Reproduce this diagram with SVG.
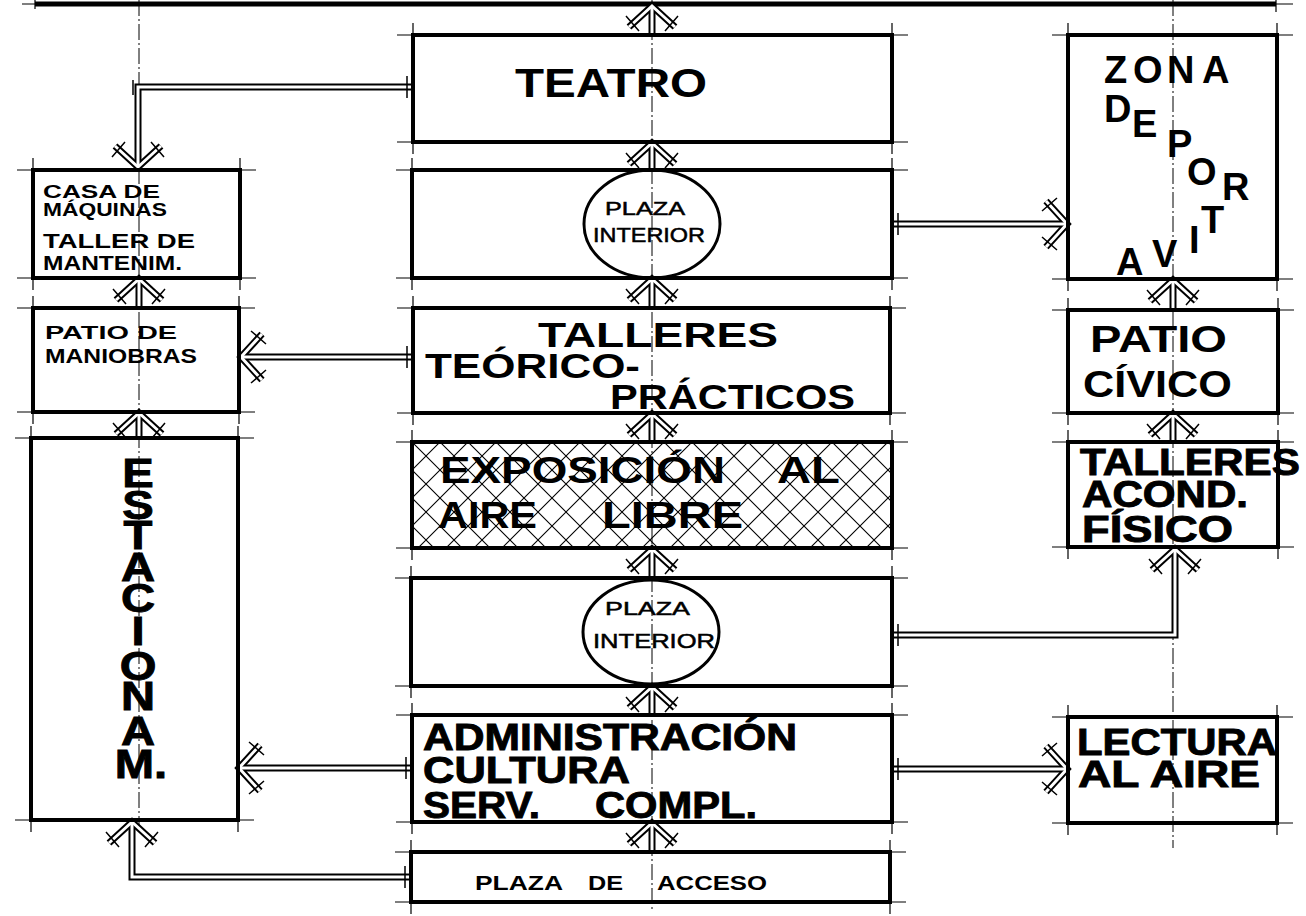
<svg xmlns="http://www.w3.org/2000/svg" xmlns:xlink="http://www.w3.org/1999/xlink" width="1306" height="916" viewBox="0 0 1306 916">
<style>
.bx{fill:none;stroke:#000;stroke-width:4}
.ext{fill:none;stroke:#000;stroke-width:1.2}
.ax{fill:none;stroke:#000;stroke-width:1;stroke-dasharray:16 3 2 3}
.el{fill:none;stroke:#000;stroke-width:3}
.t{font-family:"Liberation Sans",Arial,sans-serif;font-weight:bold;fill:#000}
.n{font-weight:normal;stroke:#000;stroke-width:0.5}
.hv{stroke:#000;stroke-width:0.9}
.tk{fill:none;stroke:#000;stroke-width:1.5}
</style>
<defs>
<pattern id="hatch" width="28" height="28" patternUnits="userSpaceOnUse" x="412" y="442">
<path d="M0 0L28 28M28 0L0 28" stroke="#000" stroke-width="1.1" fill="none"/>
</pattern>
<path id="arm" d="M-23 21L0 0L23 21"/>
<path id="tk" d="M-26 10L-13 25M13 25L26 10"/>
<g id="cp" fill="none" stroke-linejoin="miter">
<path d="M652 35V6"/><use xlink:href="#arm" href="#arm" transform="translate(652,6)"/>
<path d="M652 170V143"/><use xlink:href="#arm" href="#arm" transform="translate(652,143)"/>
<path d="M652 308V279"/><use xlink:href="#arm" href="#arm" transform="translate(652,279)"/>
<path d="M652 442V414"/><use xlink:href="#arm" href="#arm" transform="translate(652,414)"/>
<path d="M652 578V549"/><use xlink:href="#arm" href="#arm" transform="translate(652,549)"/>
<path d="M652 715V687"/><use xlink:href="#arm" href="#arm" transform="translate(652,687)"/>
<path d="M652 852V823"/><use xlink:href="#arm" href="#arm" transform="translate(652,823)"/>
<path d="M413 87H138V167"/><use xlink:href="#arm" href="#arm" transform="translate(138,167) rotate(180)"/>
<path d="M139 308V279"/><use xlink:href="#arm" href="#arm" transform="translate(139,279)"/>
<path d="M139 438V413"/><use xlink:href="#arm" href="#arm" transform="translate(139,413)"/>
<path d="M413 357H241"/><use xlink:href="#arm" href="#arm" transform="translate(241,357) rotate(-90)"/>
<path d="M412 768H239"/><use xlink:href="#arm" href="#arm" transform="translate(239,768) rotate(-90)"/>
<path d="M411 877H132V822"/><use xlink:href="#arm" href="#arm" transform="translate(132,822)"/>
<path d="M892 224H1067"/><use xlink:href="#arm" href="#arm" transform="translate(1067,224) rotate(90)"/>
<path d="M1173 310V280"/><use xlink:href="#arm" href="#arm" transform="translate(1173,280)"/>
<path d="M1173 442V414"/><use xlink:href="#arm" href="#arm" transform="translate(1173,414)"/>
<path d="M892 635H1175V549"/><use xlink:href="#arm" href="#arm" transform="translate(1175,549)"/>
<path d="M892 769H1067"/><use xlink:href="#arm" href="#arm" transform="translate(1067,769) rotate(90)"/>
</g>
</defs>
<rect width="1306" height="916" fill="#fff"/>
<g id="axes">
<path class="ax" d="M652 0V912"/>
<path class="ax" d="M139 0V832"/>
<path class="ax" d="M1173 0V848"/>
</g>
<g id="top-bar">
<path d="M35 4H1276" stroke="#000" stroke-width="5" fill="none"/>
<path class="ext" d="M22 4H35M1276 4H1293M35 0V9M1276 0V12"/>
</g>
<g id="connectors">
<use xlink:href="#cp" href="#cp" stroke="#000" stroke-width="7"/>
<use xlink:href="#cp" href="#cp" stroke="#fff" stroke-width="3"/>
<g class="tk">
<use xlink:href="#tk" href="#tk" transform="translate(652,6)"/>
<use xlink:href="#tk" href="#tk" transform="translate(652,143)"/>
<use xlink:href="#tk" href="#tk" transform="translate(652,279)"/>
<use xlink:href="#tk" href="#tk" transform="translate(652,414)"/>
<use xlink:href="#tk" href="#tk" transform="translate(652,549)"/>
<use xlink:href="#tk" href="#tk" transform="translate(652,687)"/>
<use xlink:href="#tk" href="#tk" transform="translate(652,823)"/>
<use xlink:href="#tk" href="#tk" transform="translate(138,167) rotate(180)"/>
<use xlink:href="#tk" href="#tk" transform="translate(139,279)"/>
<use xlink:href="#tk" href="#tk" transform="translate(139,413)"/>
<use xlink:href="#tk" href="#tk" transform="translate(241,357) rotate(-90)"/>
<use xlink:href="#tk" href="#tk" transform="translate(239,768) rotate(-90)"/>
<use xlink:href="#tk" href="#tk" transform="translate(132,822)"/>
<use xlink:href="#tk" href="#tk" transform="translate(1067,224) rotate(90)"/>
<use xlink:href="#tk" href="#tk" transform="translate(1173,280)"/>
<use xlink:href="#tk" href="#tk" transform="translate(1173,414)"/>
<use xlink:href="#tk" href="#tk" transform="translate(1175,549)"/>
<use xlink:href="#tk" href="#tk" transform="translate(1067,769) rotate(90)"/>
<path d="M407 76V98M407 346V368M406 757V779M405 866V888M898 213V235M898 624V646M898 758V780M133 80V95"/>
</g>
</g>
<g id="teatro">
<path class="ext" d="M397 35H908M397 142H908M413 23V154M892 23V154"/>
<rect class="bx" x="413" y="35" width="479" height="107"/>
<text class="t" x="515" y="97" font-size="40" textLength="192" lengthAdjust="spacingAndGlyphs">TEATRO</text>
</g>
<g id="plaza-interior-1">
<path class="ext" d="M396 170H908M396 278H908M412 158V290M892 158V290"/>
<rect class="bx" x="412" y="170" width="480" height="108"/>
<ellipse class="el" cx="652" cy="224" rx="68" ry="54"/>
<text class="t n" x="605" y="215" font-size="18" textLength="80" lengthAdjust="spacingAndGlyphs">PLAZA</text>
<text class="t n" x="593" y="242" font-size="20" textLength="112" lengthAdjust="spacingAndGlyphs">INTERIOR</text>
</g>
<g id="talleres-teorico">
<path class="ext" d="M397 308H906M397 413H906M413 296V425M890 296V425"/>
<rect class="bx" x="413" y="308" width="477" height="105"/>
<text class="t" x="538" y="347" font-size="35" textLength="240" lengthAdjust="spacingAndGlyphs">TALLERES</text>
<text class="t" x="425" y="378" font-size="35" textLength="215" lengthAdjust="spacingAndGlyphs">TEÓRICO-</text>
<text class="t" x="610" y="409" font-size="35" textLength="245" lengthAdjust="spacingAndGlyphs">PRÁCTICOS</text>
</g>
<g id="exposicion">
<path class="ext" d="M396 442H908M396 548H908M412 430V560M892 430V560"/>
<rect x="412" y="442" width="480" height="106" fill="url(#hatch)" stroke="#000" stroke-width="4"/>
<text class="t" x="440" y="483" font-size="36" textLength="285" lengthAdjust="spacingAndGlyphs">EXPOSICIÓN</text>
<text class="t" x="777" y="483" font-size="36" textLength="63" lengthAdjust="spacingAndGlyphs">AL</text>
<text class="t" x="438" y="528" font-size="36" textLength="99" lengthAdjust="spacingAndGlyphs">AIRE</text>
<text class="t" x="602" y="528" font-size="36" textLength="141" lengthAdjust="spacingAndGlyphs">LIBRE</text>
</g>
<g id="plaza-interior-2">
<path class="ext" d="M395 578H908M395 686H908M411 566V698M892 566V698"/>
<rect class="bx" x="411" y="578" width="481" height="108"/>
<ellipse class="el" cx="651" cy="632" rx="68" ry="52"/>
<text class="t n" x="605" y="615" font-size="18" textLength="85" lengthAdjust="spacingAndGlyphs">PLAZA</text>
<text class="t n" x="593" y="648" font-size="20" textLength="122" lengthAdjust="spacingAndGlyphs">INTERIOR</text>
</g>
<g id="administracion">
<path class="ext" d="M396 715H908M396 822H908M412 703V834M892 703V834"/>
<rect class="bx" x="412" y="715" width="480" height="107"/>
<text class="t hv" font-size="36"><tspan x="423" y="750" textLength="374" lengthAdjust="spacingAndGlyphs">ADMINISTRACIÓN</tspan><tspan x="423" y="783" textLength="207" lengthAdjust="spacingAndGlyphs">CULTURA</tspan><tspan x="423" y="818" textLength="117" lengthAdjust="spacingAndGlyphs">SERV.</tspan><tspan x="595" y="818" textLength="162" lengthAdjust="spacingAndGlyphs">COMPL.</tspan></text>
</g>
<g id="plaza-acceso">
<path class="ext" d="M395 852H906M395 902H906M411 840V914M890 840V914"/>
<rect class="bx" x="411" y="852" width="479" height="50"/>
<text class="t" x="475" y="890" font-size="20" textLength="88" lengthAdjust="spacingAndGlyphs">PLAZA</text>
<text class="t" x="588" y="890" font-size="20" textLength="35" lengthAdjust="spacingAndGlyphs">DE</text>
<text class="t" x="657" y="890" font-size="20" textLength="110" lengthAdjust="spacingAndGlyphs">ACCESO</text>
</g>
<g id="casa-maquinas">
<path class="ext" d="M17 170H256M17 278H256M33 158V290M240 158V290"/>
<rect class="bx" x="33" y="170" width="207" height="108"/>
<text class="t" x="43" y="198" font-size="18" textLength="117" lengthAdjust="spacingAndGlyphs">CASA DE</text>
<text class="t" x="43" y="216" font-size="18" textLength="124" lengthAdjust="spacingAndGlyphs">MÁQUINAS</text>
<text class="t" x="43" y="248" font-size="20" textLength="152" lengthAdjust="spacingAndGlyphs">TALLER DE</text>
<text class="t" x="43" y="270" font-size="20" textLength="139" lengthAdjust="spacingAndGlyphs">MANTENIM.</text>
</g>
<g id="patio-maniobras">
<path class="ext" d="M17 308H255M17 412H255M33 296V424M239 296V424"/>
<rect class="bx" x="33" y="308" width="206" height="104"/>
<text class="t" x="45" y="339" font-size="18" textLength="132" lengthAdjust="spacingAndGlyphs">PATIO DE</text>
<text class="t" x="45" y="363" font-size="20" textLength="152" lengthAdjust="spacingAndGlyphs">MANIOBRAS</text>
</g>
<g id="estacionam">
<path class="ext" d="M15 438H254M15 820H254M31 426V832M238 426V832"/>
<rect class="bx" x="31" y="438" width="207" height="382"/>
<text class="t hv" font-size="40" text-anchor="middle" transform="translate(138,0) scale(1.18,1)" x="0 0 0 0 0 0 0 0 0 2.5" y="487 519 549 581 612 645 680 710 745 778">ESTACIONAM.</text>
</g>
<g id="zona-deportiva">
<path class="ext" d="M1052 35H1293M1052 279H1293M1068 23V291M1277 23V291"/>
<rect class="bx" x="1068" y="35" width="209" height="244"/>
<text class="t" font-size="38" x="1104 1133 1167 1202 1104 1132 1167 1187 1222 1201 1189 1152 1116" y="83 83 83 83 122 137 157 185 200 233 253 267 275">ZONADEPORTIVA</text>
</g>
<g id="patio-civico">
<path class="ext" d="M1052 310H1294M1052 413H1294M1068 298V425M1278 298V425"/>
<rect class="bx" x="1068" y="310" width="210" height="103"/>
<text class="t" x="1090" y="352" font-size="36" textLength="137" lengthAdjust="spacingAndGlyphs">PATIO</text>
<text class="t" x="1083" y="397" font-size="36" textLength="149" lengthAdjust="spacingAndGlyphs">CÍVICO</text>
</g>
<g id="talleres-acond">
<path class="ext" d="M1052 442H1294M1052 547H1294M1068 430V559M1278 430V559"/>
<rect class="bx" x="1068" y="442" width="210" height="105"/>
<text class="t hv" font-size="36"><tspan x="1080" y="475" textLength="220" lengthAdjust="spacingAndGlyphs">TALLERES</tspan><tspan x="1082" y="507" textLength="166" lengthAdjust="spacingAndGlyphs">ACOND.</tspan><tspan x="1082" y="542" textLength="151" lengthAdjust="spacingAndGlyphs">FÍSICO</tspan></text>
</g>
<g id="lectura">
<path class="ext" d="M1052 717H1293M1052 823H1293M1068 705V835M1277 705V835"/>
<rect class="bx" x="1068" y="717" width="209" height="106"/>
<text class="t hv" font-size="37"><tspan x="1077" y="755" textLength="200" lengthAdjust="spacingAndGlyphs">LECTURA</tspan><tspan x="1078" y="787" textLength="182" lengthAdjust="spacingAndGlyphs">AL AIRE</tspan></text>
</g>
</svg>
